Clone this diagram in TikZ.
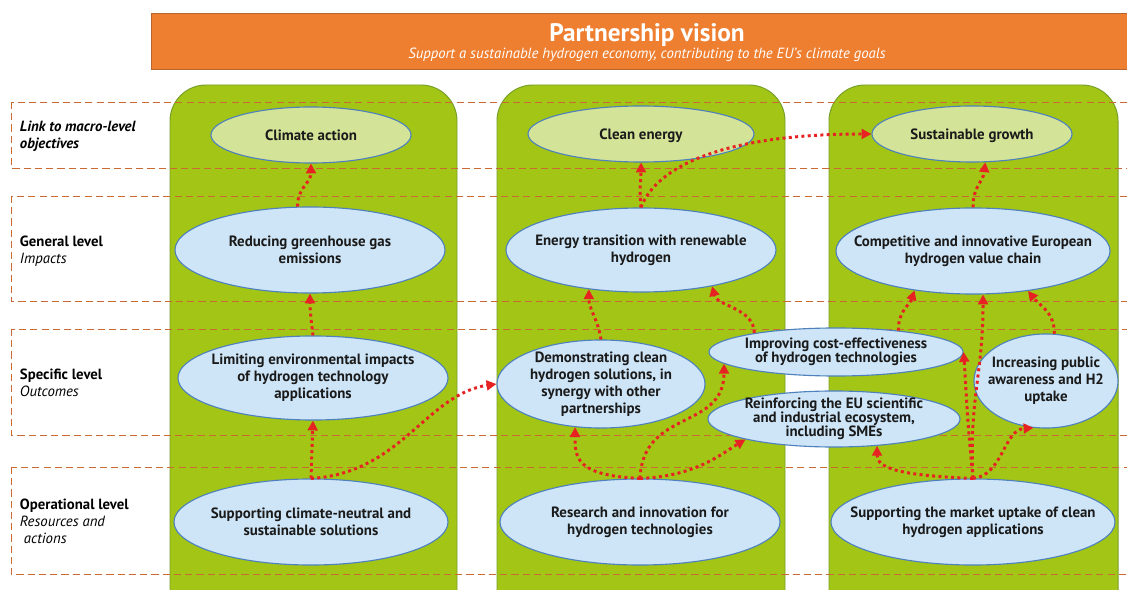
\documentclass[tikz,border=0pt]{standalone}
\usepackage{fontspec}
\setmainfont{PT Sans}
\usetikzlibrary{shapes.geometric,arrows.meta}

\definecolor{visionorange}{HTML}{EF7F30}
\definecolor{visionedge}{HTML}{B8642E}
\definecolor{colgreen}{HTML}{A2C516}
\definecolor{coledge}{HTML}{78A02A}
\definecolor{goalfill}{HTML}{D3E398}
\definecolor{aimfill}{HTML}{CDE5F7}
\definecolor{ovalline}{HTML}{4F81BD}
\definecolor{bandline}{HTML}{C86A32}
\definecolor{flowred}{HTML}{E62222}
\definecolor{inktext}{HTML}{1A1A1A}

\tikzset{
  column/.style={fill=colgreen, draw=coledge, line width=0.7pt, rounded corners=0.9cm},
  band/.style={draw=bandline, line width=0.7pt, dash pattern=on 5pt off 3pt},
  goal/.style={ellipse, draw=ovalline, fill=goalfill, line width=0.8pt, inner sep=0pt},
  aim/.style={goal, fill=aimfill},
  txt/.style={align=center, text=inktext, font=\bfseries\fontsize{10.6}{12}\selectfont},
  tighttxt/.style={txt, font=\bfseries\fontsize{10.6}{10}\selectfont},
  lvl/.style={anchor=west, align=left, font=\fontsize{10.5}{12}\selectfont},
  flow/.style={draw=flowred, line width=2.1pt, dash pattern=on 2.1pt off 2.4pt,
    -{Triangle[length=7pt,width=7pt]}}
}

\begin{document}
\begin{tikzpicture}[x=0.025cm,y=-0.025cm]
\path[use as bounding box,clip] (0,0) rectangle (1127,590);

\def\coltop{85} \def\colbot{640}

\fill[visionorange] (151,13) rectangle (1140,69);
\draw[visionedge, line width=0.6pt] (1140,13) -- (151,13) -- (151,69) -- (1140,69);
\node[text=white, font=\bfseries\fontsize{18}{20}\selectfont] (vision) at (647,35) {Partnership vision};
\node[text=white, font=\itshape\fontsize{10.5}{12}\selectfont] (visionsub) at (647,55)
  {Support a sustainable hydrogen economy, contributing to the EU’s climate goals};

\draw[column] (170,\coltop) rectangle (457,\colbot);
\draw[column] (497,\coltop) rectangle (785,\colbot);
\draw[column] (829,\coltop) rectangle (1118,\colbot);

\draw[band] (11,102) rectangle (1150,168);
\draw[band] (11,196) rectangle (1150,301);
\draw[band] (11,329) rectangle (1150,435);
\draw[band] (11,467) rectangle (1150,574);

\node[lvl] (macro) at (15,136) {\textbf{\textit{Link to macro-level}}\\\textbf{\textit{objectives}}};
\node[lvl] (general) at (15,251) {\textbf{General level}\\\textit{Impacts}};
\node[lvl] (specific) at (15,383) {\textbf{Specific level}\\\textit{Outcomes}};
\node[lvl] (operational) at (15,521) {\textbf{Operational level}\\\textit{Resources and}\\\textit{\ actions}};

\node[goal, minimum width=5cm, minimum height=1.4cm] (climate) at (311,135) {};
\node[txt] (climateT) at (climate) {Climate action};
\node[goal, minimum width=5.65cm, minimum height=1.4cm] (cleanen) at (641,134) {};
\node[txt] (cleanenT) at ([yshift=-0.5mm]cleanen) {Clean energy};
\node[goal, minimum width=5cm, minimum height=1.4cm] (growth) at (972,134) {};
\node[txt] (growthT) at ([yshift=-0.5mm]growth) {Sustainable growth};

\node[aim, minimum width=6.75cm, minimum height=2.15cm] (ghg) at (310,250) {};
\node[txt] (ghgT) at (ghg) {Reducing greenhouse gas\\emissions};
\node[aim, minimum width=6.75cm, minimum height=2.1cm] (transition) at (641,250) {};
\node[txt] (transitionT) at (transition) {Energy transition with renewable\\hydrogen};
\node[aim, minimum width=6.85cm, minimum height=2.15cm] (competitive) at (973,251) {};
\node[txt] (competitiveT) at (competitive) {Competitive and innovative European\\hydrogen value chain};

\node[aim, minimum width=6.75cm, minimum height=2.1cm] (limiting) at (313,378) {};
\node[txt] (limitingT) at (limiting) {Limiting environmental impacts\\of hydrogen technology\\applications};
\node[aim, minimum width=5.2cm, minimum height=2.2cm] (demo) at (601,384) {};
\node[txt] (demoT) at (demo) {Demonstrating clean\\hydrogen solutions, in\\synergy with other\\partnerships};
\node[aim, minimum width=6.35cm, minimum height=1.2cm] (costeff) at (836,352) {};
\node[tighttxt] (costeffT) at (costeff) {Improving cost-effectiveness\\of hydrogen technologies};
\node[aim, minimum width=6.3cm, minimum height=1.4cm] (ecosys) at (834,419) {};
\node[tighttxt] (ecosysT) at (ecosys) {Reinforcing the EU scientific\\and industrial ecosystem,\\including SMEs};
\node[aim, minimum width=3.6cm, minimum height=2.35cm] (awareness) at (1046,381) {};
\node[txt] (awarenessT) at (awareness) {Increasing public\\awareness and H2\\uptake};

\node[aim, minimum width=6.85cm, minimum height=2.15cm] (neutral) at (311,522) {};
\node[txt] (neutralT) at (neutral) {Supporting climate-neutral and\\sustainable solutions};
\node[aim, minimum width=7cm, minimum height=2.15cm] (research) at (640,522) {};
\node[txt] (researchT) at (research) {Research and innovation for\\hydrogen technologies};
\node[aim, minimum width=7.1cm, minimum height=2.15cm] (market) at (973,522) {};
\node[txt] (marketT) at (market) {Supporting the market uptake of clean\\hydrogen applications};

\draw[flow] (ghg.106) .. controls +(0,-20) and +(0,20) .. (climate.south);
\draw[flow] (limiting.north) .. controls +(-2,-15) and +(0,15) .. (ghg.south);
\draw[flow] (neutral.north) -- (limiting.south);
\draw[flow] (neutral.north) .. controls +(90,-5) and +(-70,10) .. (demo.west);

\draw[flow] (demo.north) .. controls +(-3,-20) and +(0,20) .. (transition.217);
\draw[flow] (costeff.167) .. controls +(0,-25) and +(5,20) .. (transition.333);
\draw[flow] (transition.north) .. controls +(-2,-20) and +(0,20) .. (cleanen.south);
\draw[flow] (transition.north) .. controls +(15,-40) and +(-150,0) .. (growth.west);
\draw[flow] (research.north) .. controls +(-65,-3) and +(0,30) .. (demo.239);
\draw[flow] (research.north) .. controls +(3,-70) and +(0,67) .. (costeff.186);
\draw[flow] (research.north) .. controls +(55,-2) and +(-25,15) .. (ecosys.193);

\draw[flow] (market.north) .. controls +(-75,-3) and +(0,22) .. (ecosys.328);
\draw[flow] (market.north) .. controls +(-4,-80) and +(0,80) .. (competitive.283);
\draw[flow] (market.north) .. controls +(-6,-60) and +(3,45) .. (costeff.east);
\draw[flow] (market.north) .. controls +(30,-3) and +(-30,2) .. (awareness.255);
\draw[flow] (awareness.80) .. controls +(0,-22) and +(12,15) .. (competitive.324);
\draw[flow] (costeff.19) .. controls +(0,-20) and +(-5,15) .. (competitive.214);
\draw[flow] (competitive.north) .. controls +(0,-22) and +(-2,20) .. (growth.295);
\end{tikzpicture}
\end{document}
